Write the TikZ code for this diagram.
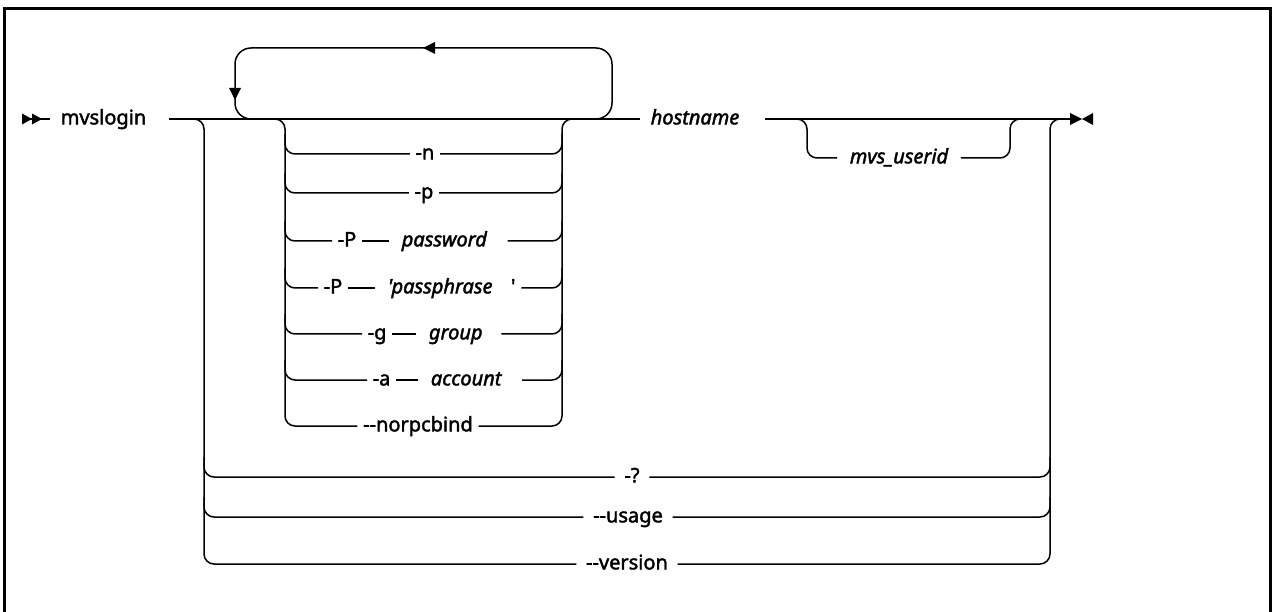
\documentclass[tikz,border=0pt]{standalone}
\usepackage{fontspec}
\usetikzlibrary{positioning}
\newfontfamily\diagfont{Noto Sans}[FakeBold=2]
\begin{document}
\tikzset{
  lbl/.style={inner ysep=0pt, text height=12pt, text depth=1.3pt, font=\diagfont\fontsize{20pt}{24pt}\selectfont},
  kw/.style={lbl, inner xsep=5pt},
  var/.style={lbl, inner xsep=12pt, font=\diagfont\fontsize{20pt}{24pt}\selectfont\itshape},
  rc/.style={rounded corners=10pt},
  loopline/.style={rounded corners=16pt},
  frame/.style={line width=3pt},
}
\begin{tikzpicture}[x=1pt,y=-1pt,line width=1.5pt]
\useasboundingbox (0,0) rectangle (1272,612);
\draw[frame] (4.7,613) -- (4.7,8.3) -- (1270.5,8.3) -- (1270.5,613);

% start marker and command
\coordinate (start) at (22,119);
\fill (22,113.5) -- (32,119) -- (22,124.5) -- cycle;
\fill (32,113.5) -- (42,119) -- (32,124.5) -- cycle;
\node[kw, inner xsep=10pt, anchor=west] (mvs) at (50,119) {mvslogin};
\draw (start) -- (mvs.west);

% hostname and end marker
\node[var, inner xsep=10pt, anchor=west] (host) at (640,119) {hostname};
\draw ([xshift=12pt]mvs.east) -- (host.west);
\coordinate (endm) at (1070,119);
\draw ([xshift=15pt]host.east) -- (endm);
\fill (1070,113) -- (1082,119) -- (1070,125) -- cycle;
\fill (1093,113) -- (1082,119) -- (1093,125) -- cycle;

% repeat loop
\draw[loopline] (265,119) -- (235,119) -- (235,48) -- (612,48) -- (612,119) -- (580,119);
\fill (229,88) -- (241,88) -- (235,100) -- cycle;
\fill (435,42) -- (435,54) -- (423,48) -- cycle;

% option nodes
\node[kw] (n) at (425,154) {-n};
\node[kw] (p) at (424,193) {-p};
\node[kw, anchor=west] (P1) at (332,241) {-P};
\node[var, right=27pt of P1] (pw) {password};
\node[kw, anchor=west] (P2) at (318,288) {-P};
\node[var, right=27pt of P2] (pp) {'passphrase};
\node[kw, right=0pt of pp] (q) {'};
\node[kw, anchor=west] (g) at (362,334) {-g};
\node[var, right=24pt of g] (grp) {group};
\node[kw, anchor=west] (a) at (367,380) {-a};
\node[var, right=22pt of a] (acc) {account};
\node[kw] (nr) at (418,426) {-{}-norpcbind};

% inner group rails
\draw[rc] (270,119) -- (285,119) -- (285,426) -- (nr.west);
\draw[rc] (nr.east) -- (562,426) -- (562,119) -- (577,119);

% rows
\draw[rc] (285,134) -- (285,154) -- (n.west);
\draw[rc] (n.east) -- (562,154) -- (562,134);
\draw[rc] (285,173) -- (285,193) -- (p.west);
\draw[rc] (p.east) -- (562,193) -- (562,173);
\draw[rc] (285,221) -- (285,241) -- (P1.west);
\draw (P1.east) -- (pw.west);
\draw[rc] ([xshift=8pt]pw.east) -- (562,241) -- (562,221);
\draw[rc] (285,268) -- (285,288) -- (P2.west);
\draw (P2.east) -- (pp.west);
\draw[rc] (q.east) -- (562,288) -- (562,268);
\draw[rc] (285,314) -- (285,334) -- (g.west);
\draw (g.east) -- (grp.west);
\draw[rc] ([xshift=6pt]grp.east) -- (562,334) -- (562,314);
\draw[rc] (285,360) -- (285,380) -- (a.west);
\draw (a.east) -- (acc.west);
\draw[rc] ([xshift=8pt]acc.east) -- (562,380) -- (562,360);

% optional user id
\node[var] (mu) at (899,158) {mvs\_userid};
\draw[rc] (790,119) -- (807,119) -- (807,158) -- (mu.west);
\draw[rc] (mu.east) -- (1010,158) -- (1010,119) -- (1025,119);

% alternatives to the whole syntax
\node[kw, inner xsep=9pt] (o1) at (632,477) {-?};
\node[kw, inner xsep=9pt] (o2) at (628,517) {-{}-usage};
\node[kw, inner xsep=9pt] (o3) at (627,564) {-{}-version};
\draw[rc] (185,119) -- (204,119) -- (204,564) -- (o3.west);
\draw[rc] (o3.east) -- (1050,564) -- (1050,119) -- (1066,119);
\draw[rc] (204,457) -- (204,477) -- (o1.west);
\draw[rc] (o1.east) -- (1050,477) -- (1050,457);
\draw[rc] (204,497) -- (204,517) -- (o2.west);
\draw[rc] (o2.east) -- (1050,517) -- (1050,497);
\end{tikzpicture}
\end{document}
